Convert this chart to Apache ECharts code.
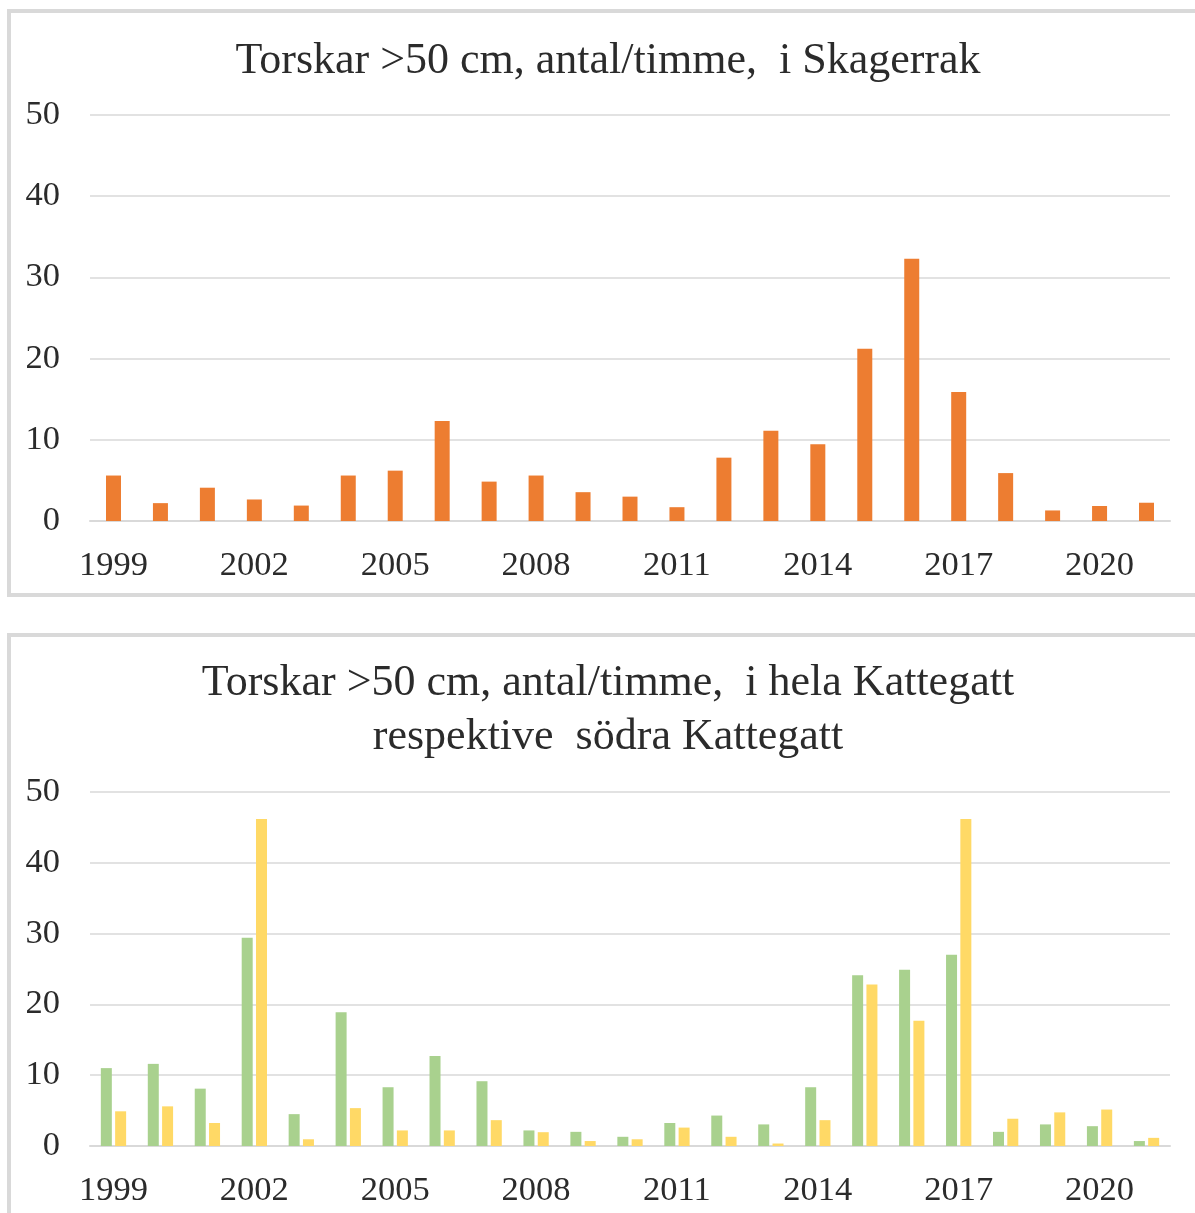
<!DOCTYPE html>
<html>
<head>
<meta charset="utf-8">
<script src="https://cdn.jsdelivr.net/npm/echarts@6/dist/echarts.min.js"></script>
<style>
html,body{margin:0;padding:0;background:#fff;}
#c{width:1195px;height:1213px;}
</style>
</head>
<body>
<div id="c"></div>
<script>
const years = ['1999','2000','2001','2002','2003','2004','2005','2006','2007','2008','2009','2010','2011','2012','2013','2014','2015','2016','2017','2018','2019','2020','2021'];
const skagerrak = [5.6,2.2,4.1,2.65,1.9,5.6,6.2,12.3,4.85,5.6,3.55,3.0,1.7,7.8,11.1,9.45,21.2,32.3,15.9,5.9,1.3,1.85,2.25];
const helaKattegatt = [11.0,11.6,8.1,29.4,4.5,18.9,8.3,12.7,9.15,2.2,2.0,1.3,3.25,4.3,3.05,8.3,24.1,24.9,27.0,2.0,3.05,2.8,0.7];
const sodraKattegatt = [4.9,5.6,3.25,46.2,0.95,5.35,2.2,2.2,3.65,1.95,0.7,0.95,2.6,1.3,0.35,3.65,22.8,17.7,46.2,3.85,4.75,5.15,1.15];
const yTicks = {min:0, max:50, interval:10};
const title1 = 'Torskar >50 cm, antal/timme,  i Skagerrak';
const title2a = 'Torskar >50 cm, antal/timme,  i hela Kattegatt';
const title2b = 'respektive  södra Kattegatt';

const FONT = '"Liberation Serif", "DejaVu Serif", serif';
const TXT = '#2b2b2b';
const GRID = '#D9D9D9';

const chart = echarts.init(document.getElementById('c'), null, {renderer:'canvas'});

function xAxis(gi){
  return {
    type:'category', gridIndex:gi, data:years,
    axisLine:{show:true, lineStyle:{color:GRID, width:2}},
    axisTick:{show:false},
    axisLabel:{interval:2, fontFamily:FONT, fontSize:34.5, color:TXT, margin:27}
  };
}
function yAxis(gi){
  return {
    type:'value', gridIndex:gi, min:yTicks.min, max:yTicks.max, interval:yTicks.interval,
    axisLine:{show:false}, axisTick:{show:false},
    splitLine:{lineStyle:{color:GRID, width:1.5}},
    axisLabel:{fontFamily:FONT, fontSize:34.5, color:TXT, margin:30, padding:[4,0,0,0]}
  };
}

chart.setOption({
  animation:false,
  backgroundColor:'#ffffff',
  grid:[
    {left:90, width:1080, top:115, height:406},
    {left:90, width:1080, top:792, height:354}
  ],
  xAxis:[xAxis(0), xAxis(1)],
  yAxis:[yAxis(0), yAxis(1)],
  series:[
    {type:'bar', name:'Skagerrak', xAxisIndex:0, yAxisIndex:0, data:skagerrak,
     barWidth:15, itemStyle:{color:'#ED7D31'}},
    {type:'bar', name:'hela Kattegatt', xAxisIndex:1, yAxisIndex:1, data:helaKattegatt,
     barWidth:11, barGap:'30%', itemStyle:{color:'#A9D18E'}},
    {type:'bar', name:'södra Kattegatt', xAxisIndex:1, yAxisIndex:1, data:sodraKattegatt,
     barWidth:11, barGap:'30%', itemStyle:{color:'#FFD966'}}
  ],
  graphic:[
    {type:'rect', z:-1, shape:{x:9, y:11, width:1200, height:584}, style:{fill:'none', stroke:'#D9D9D9', lineWidth:4}},
    {type:'rect', z:-1, shape:{x:9, y:635, width:1200, height:600}, style:{fill:'none', stroke:'#D9D9D9', lineWidth:4}},
    {type:'text', x:0, y:-20, style:{text:'delen.', font:'24px '+FONT, fill:TXT}},
    {type:'text', x:608, y:61, style:{text:title1, font:'44px '+FONT, fill:TXT, align:'center', verticalAlign:'middle'}},
    {type:'text', x:608, y:683, style:{text:title2a, font:'44px '+FONT, fill:TXT, align:'center', verticalAlign:'middle'}},
    {type:'text', x:608, y:737, style:{text:title2b, font:'44px '+FONT, fill:TXT, align:'center', verticalAlign:'middle'}}
  ]
});
</script>
</body>
</html>
